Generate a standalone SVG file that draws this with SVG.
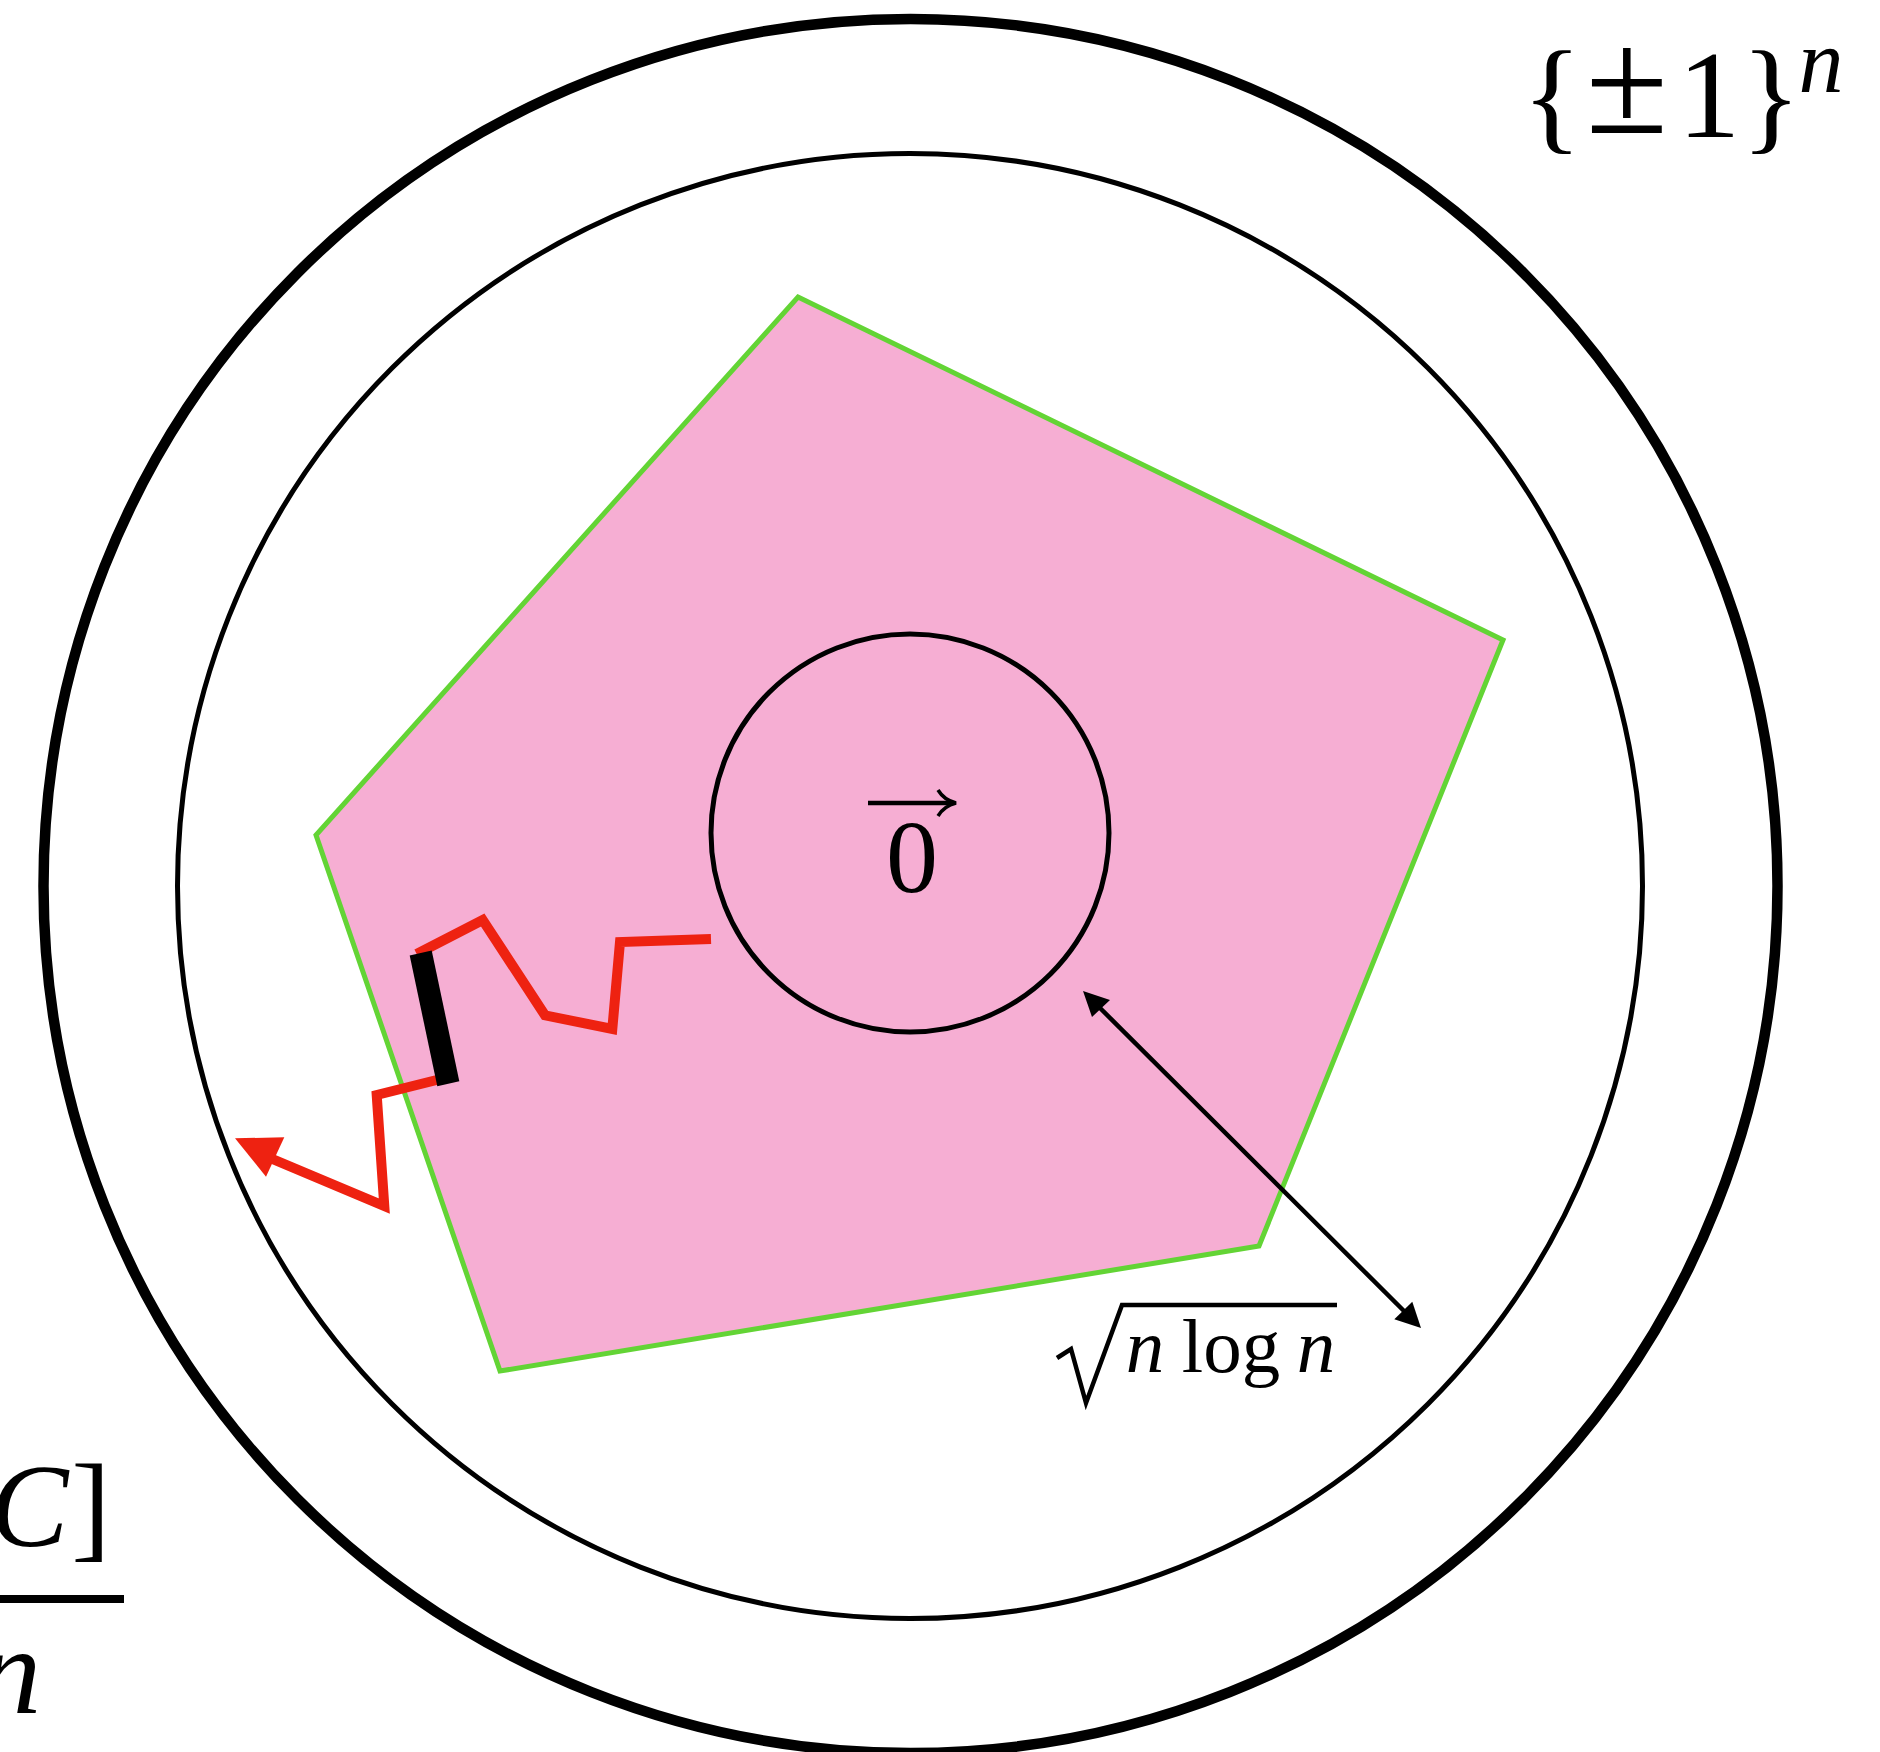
<svg xmlns="http://www.w3.org/2000/svg" width="1880" height="1752" viewBox="0 0 1880 1752">
<style>
.t{font-family:"Liberation Serif","Times New Roman",serif;fill:#000}
.i{font-style:italic}
.ring{fill:none;stroke:#000}
.red{fill:none;stroke:#EE2211;stroke-width:10;stroke-linejoin:miter}
</style>
<rect width="1880" height="1752" fill="#fff"/>
<g id="outer-circle"><circle class="ring" cx="910.5" cy="886" r="867" stroke-width="10.5"/></g>
<g id="inner-circle"><circle class="ring" cx="910" cy="886" r="732.5" stroke-width="5"/></g>
<g id="pentagon"><polygon points="798,297 1503,640 1259,1246 500,1371 316,835" fill="#F6AED3" stroke="#63D435" stroke-width="5" stroke-linejoin="miter"/></g>
<g id="origin-ball"><circle class="ring" cx="910" cy="833" r="199" stroke-width="5"/>
<text class="t" x="912" y="892" font-size="104" text-anchor="middle">0</text>
<line x1="868" y1="803" x2="952" y2="803" stroke="#000" stroke-width="4.5"/>
<path d="M938,790 Q944,800 956,803 Q944,806 938,816" fill="none" stroke="#000" stroke-width="3.5"/>
</g>
<g id="connectors">
<polyline class="red" points="711,939 620,942 612.3,1029 545,1015.3 482.7,920 416.7,954"/>
<polyline class="red" points="436.7,1080 376.7,1095 384.3,1206 270,1158"/>
<polygon points="235,1138.3 284.3,1137.3 266,1176.7" fill="#EE2211"/>
<polygon points="409.7,955.5 431.7,950.5 459.3,1081.2 437.3,1086.2" fill="#000"/>
<line x1="1094" y1="1002" x2="1410" y2="1317" stroke="#000" stroke-width="4.5"/>
<polygon points="1083,991 1110,1000 1092,1017" fill="#000"/>
<polygon points="1421,1328 1412.3,1301.7 1394.3,1319.3" fill="#000"/>
</g>
<g id="label-cube">
<text class="t" x="1552" y="137" font-size="125" text-anchor="middle">{</text>
<text class="t" x="1627" y="133" font-size="150" text-anchor="middle">±</text>
<text class="t" x="1709" y="137" font-size="125" text-anchor="middle">1</text>
<text class="t" x="1771" y="137" font-size="125" text-anchor="middle">}</text>
<text class="t i" x="1821" y="92" font-size="90" text-anchor="middle">n</text>
</g>
<g id="label-sqrt">
<path d="M1057,1358 L1071,1349 L1086,1403 L1122,1305 L1337,1305" fill="none" stroke="#000" stroke-width="4.5" stroke-linejoin="miter"/>
<text class="t i" x="1145" y="1372" font-size="77" text-anchor="middle">n</text>
<text class="t" x="1231" y="1372" font-size="77" text-anchor="middle">log</text>
<text class="t i" x="1316" y="1372" font-size="77" text-anchor="middle">n</text>
</g>
<g id="label-fraction">
<text class="t i" x="29" y="1546" font-size="118" text-anchor="middle">C</text>
<text class="t" x="91" y="1546" font-size="118" text-anchor="middle">]</text>
<rect x="0" y="1595" width="124" height="8" fill="#000"/>
<text class="t i" x="10" y="1713" font-size="125" text-anchor="middle">n</text>
</g>
</svg>
